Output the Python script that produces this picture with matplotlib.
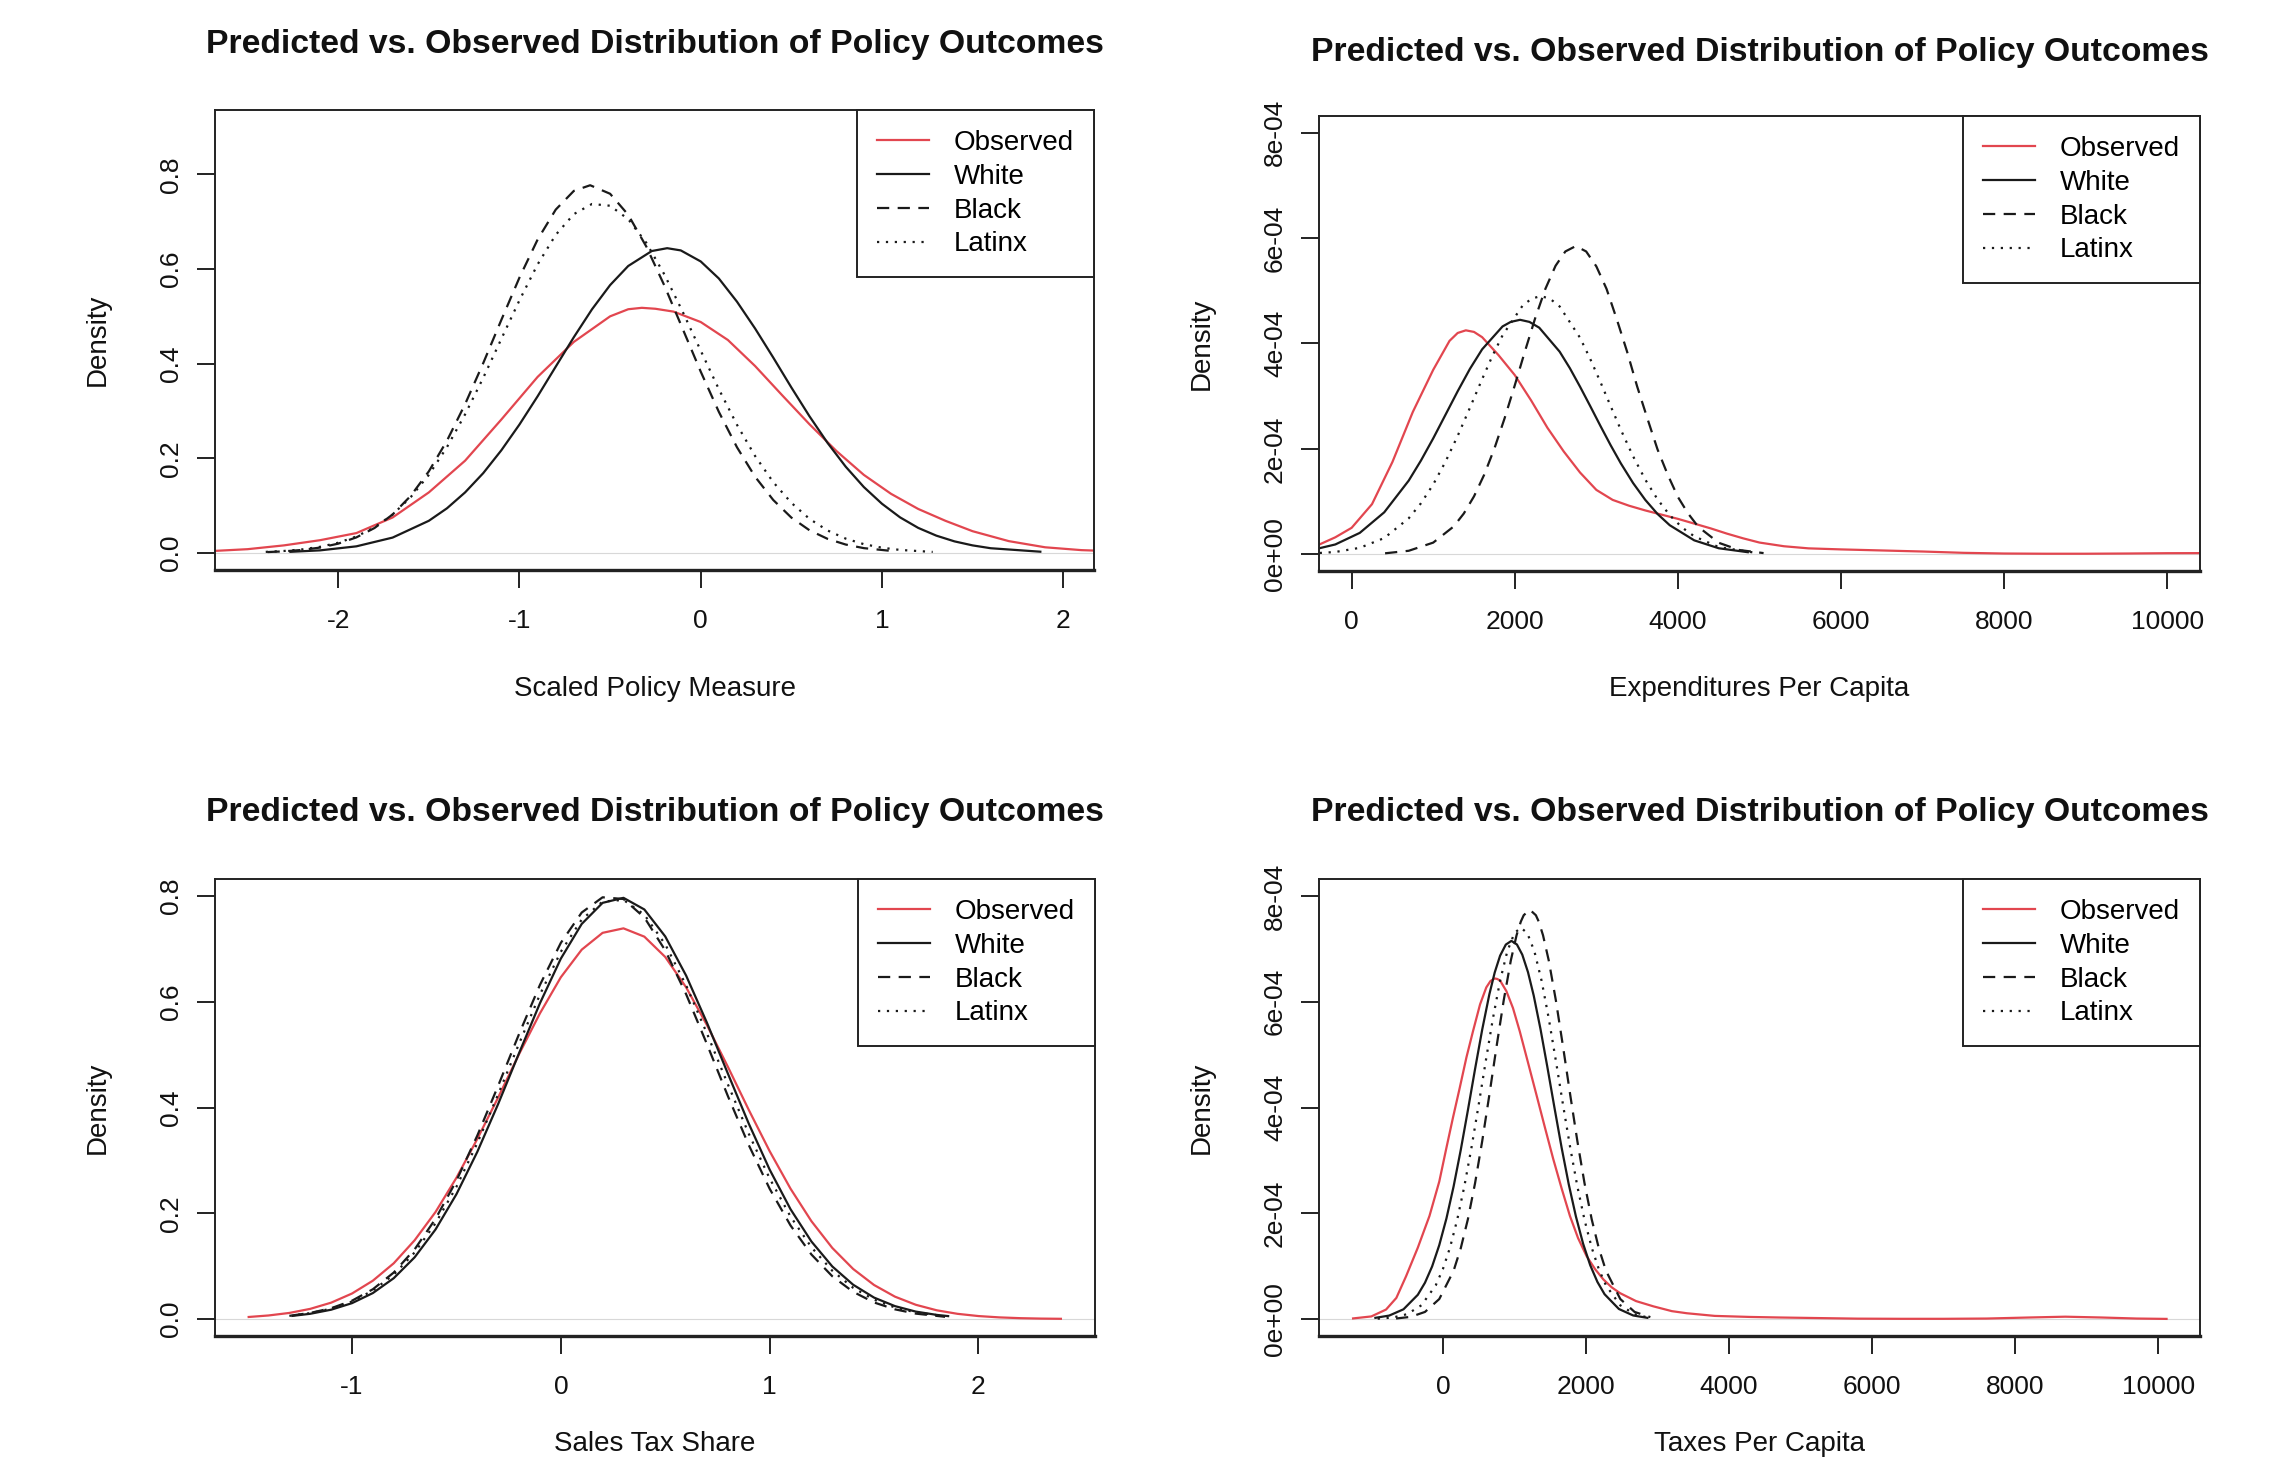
import matplotlib
matplotlib.use("Agg")
import matplotlib.pyplot as plt
from matplotlib.lines import Line2D
import numpy as np

plt.rcParams['font.family'] = ['Liberation Sans', 'DejaVu Sans']

# ---------------- data ----------------
title_text = "Predicted vs. Observed Distribution of Policy Outcomes"
series_names = ["Observed", "White", "Black", "Latinx"]
x_labels = ["Scaled Policy Measure", "Expenditures Per Capita", "Sales Tax Share", "Taxes Per Capita"]
y_label = "Density"

# Panel 1: Scaled Policy Measure
p1_obs_x = [-2.70, -2.50, -2.30, -2.10, -1.90, -1.70, -1.50, -1.30, -1.10, -0.90, -0.70, -0.50, -0.40, -0.325,
            -0.25, -0.15, 0.00, 0.15, 0.30, 0.45, 0.60, 0.75, 0.90, 1.05, 1.20, 1.35, 1.50, 1.70, 1.90, 2.10, 2.25]
p1_obs_y = [0.004, 0.008, 0.016, 0.027, 0.042, 0.075, 0.128, 0.195, 0.282, 0.372, 0.446, 0.500, 0.515, 0.518,
            0.516, 0.510, 0.488, 0.450, 0.395, 0.333, 0.272, 0.215, 0.165, 0.125, 0.093, 0.068, 0.046, 0.025,
            0.012, 0.006, 0.004]
p1_wht_x = [-2.27, -2.10, -1.90, -1.70, -1.50, -1.40, -1.30, -1.20, -1.10, -1.00, -0.90, -0.80, -0.70, -0.60,
            -0.50, -0.40, -0.27, -0.185, -0.11, 0.00, 0.10, 0.20, 0.30, 0.40, 0.50, 0.60, 0.70, 0.80, 0.90,
            1.00, 1.10, 1.20, 1.30, 1.40, 1.50, 1.60, 1.88]
p1_wht_y = [0.0023, 0.0055, 0.014, 0.0325, 0.068, 0.0944, 0.128, 0.1687, 0.217, 0.2715, 0.331, 0.3937, 0.456,
            0.5148, 0.566, 0.6064, 0.638, 0.644, 0.6393, 0.616, 0.580, 0.531, 0.4743, 0.413, 0.3498, 0.2889,
            0.2325, 0.1823, 0.1393, 0.104, 0.0752, 0.053, 0.0366, 0.0245, 0.016, 0.010, 0.0025]
p1_blk_x = [-2.39, -2.30, -2.20, -2.10, -2.00, -1.90, -1.80, -1.70, -1.60, -1.50, -1.40, -1.30, -1.20, -1.10,
            -1.00, -0.90, -0.80, -0.70, -0.61, -0.50, -0.40, -0.30, -0.20, -0.10, 0.00, 0.10, 0.20, 0.30,
            0.40, 0.50, 0.60, 0.70, 0.80, 0.90, 1.07]
p1_blk_y = [0.0019, 0.0034, 0.0064, 0.0114, 0.0197, 0.0329, 0.0527, 0.0813, 0.1207, 0.1725, 0.2373, 0.3145,
            0.4011, 0.4925, 0.582, 0.6622, 0.7255, 0.7651, 0.777, 0.759, 0.7145, 0.6473, 0.5646, 0.474,
            0.3832, 0.2982, 0.2234, 0.1611, 0.112, 0.0748, 0.048, 0.0298, 0.0178, 0.0102, 0.0036]
p1_lat_x = [-2.40, -2.30, -2.20, -2.10, -2.00, -1.90, -1.80, -1.70, -1.60, -1.50, -1.40, -1.30, -1.20, -1.10,
            -1.00, -0.90, -0.80, -0.70, -0.60, -0.50, -0.40, -0.30, -0.20, -0.10, 0.00, 0.10, 0.20, 0.30,
            0.40, 0.50, 0.60, 0.70, 0.80, 0.90, 1.00, 1.10, 1.28]
p1_lat_y = [0.0023, 0.0042, 0.0075, 0.013, 0.0216, 0.0348, 0.054, 0.0812, 0.118, 0.1651, 0.2237, 0.293,
            0.3701, 0.4524, 0.534, 0.6097, 0.6722, 0.716, 0.7374, 0.7337, 0.7053, 0.6552, 0.5881, 0.5101,
            0.4275, 0.3462, 0.2709, 0.2049, 0.1497, 0.106, 0.0721, 0.0475, 0.0303, 0.0186, 0.0111, 0.0064,
            0.0022]

# Panel 2: Expenditures Per Capita (density in units of 1e-4)
p2_obs_x = [-500, -400, -200, 0, 250, 500, 750, 1000, 1200, 1300, 1400, 1500, 1600, 1800, 2000, 2200, 2400,
            2600, 2800, 3000, 3200, 3400, 3600, 3800, 4000, 4200, 4400, 4600, 4800, 5000, 5300, 5600, 6000,
            6500, 7000, 7500, 8000, 8500, 9000, 9500, 10000, 10500]
p2_obs_y = [0.13, 0.18, 0.32, 0.50, 0.95, 1.75, 2.70, 3.50, 4.05, 4.20, 4.25, 4.22, 4.12, 3.78, 3.40, 2.92,
            2.40, 1.95, 1.55, 1.22, 1.03, 0.92, 0.83, 0.75, 0.67, 0.58, 0.49, 0.39, 0.30, 0.22, 0.15, 0.11,
            0.09, 0.07, 0.05, 0.025, 0.012, 0.008, 0.008, 0.012, 0.018, 0.02]
p2_wht_x = [-500, -200, 100, 400, 700, 850, 1000, 1150, 1300, 1450, 1600, 1850, 1950, 2065, 2180, 2300, 2550,
            2675, 2800, 2925, 3050, 3175, 3300, 3450, 3600, 3750, 3900, 4200, 4500, 4870]
p2_wht_y = [0.074, 0.184, 0.404, 0.795, 1.397, 1.778, 2.198, 2.645, 3.093, 3.518, 3.89, 4.324, 4.41, 4.45,
            4.41, 4.30, 3.845, 3.532, 3.18, 2.811, 2.435, 2.069, 1.724, 1.351, 1.03, 0.763, 0.549, 0.262,
            0.112, 0.034]
p2_blk_x = [410, 700, 1000, 1250, 1375, 1500, 1625, 1750, 1875, 2000, 2125, 2250, 2375, 2500, 2620, 2748,
            2875, 3000, 3125, 3250, 3375, 3500, 3625, 3750, 3875, 4000, 4125, 4250, 4500, 4750, 5050]
p2_blk_y = [0.016, 0.064, 0.219, 0.524, 0.771, 1.097, 1.508, 2.005, 2.579, 3.206, 3.854, 4.48, 5.037, 5.476,
            5.748, 5.85, 5.748, 5.464, 5.037, 4.462, 3.854, 3.185, 2.579, 1.989, 1.508, 1.085, 0.771, 0.518,
            0.216, 0.079, 0.020]
p2_lat_x = [-500, -200, 100, 400, 700, 850, 1000, 1150, 1300, 1450, 1600, 1725, 1850, 2100, 2210, 2317, 2430,
            2550, 2800, 2925, 3050, 3175, 3300, 3450, 3600, 3750, 3900, 4050, 4200, 4500, 4950]
p2_lat_y = [0.012, 0.041, 0.12, 0.306, 0.681, 0.966, 1.323, 1.753, 2.246, 2.779, 3.324, 3.761, 4.155, 4.729,
            4.853, 4.90, 4.853, 4.703, 4.109, 3.707, 3.268, 2.812, 2.362, 1.86, 1.415, 1.041, 0.739, 0.508,
            0.338, 0.134, 0.026]

# Panel 3: Sales Tax Share
p3_obs_x = [-1.5, -1.4, -1.3, -1.2, -1.1, -1.0, -0.9, -0.8, -0.7, -0.6, -0.5, -0.4, -0.3, -0.2, -0.1, 0.0,
            0.1, 0.2, 0.3, 0.4, 0.5, 0.6, 0.7, 0.8, 0.9, 1.0, 1.1, 1.2, 1.3, 1.4, 1.5, 1.6, 1.7, 1.8, 1.9,
            2.0, 2.1, 2.2, 2.3, 2.4]
p3_obs_y = [0.0038, 0.0068, 0.0116, 0.0193, 0.031, 0.0483, 0.0726, 0.1055, 0.149, 0.2024, 0.267, 0.3405,
            0.419, 0.5009, 0.578, 0.6462, 0.6984, 0.7302, 0.7387, 0.723, 0.6846, 0.6272, 0.5557, 0.4769,
            0.3955, 0.3175, 0.2465, 0.1851, 0.1345, 0.0947, 0.0644, 0.0424, 0.027, 0.0166, 0.0099, 0.0057,
            0.0032, 0.0017, 0.0009, 0.0005]
p3_wht_x = [-1.29, -1.2, -1.1, -1.0, -0.9, -0.8, -0.7, -0.6, -0.5, -0.4, -0.3, -0.2, -0.1, 0.0, 0.1, 0.2,
            0.3, 0.4, 0.5, 0.6, 0.7, 0.8, 0.9, 1.0, 1.1, 1.2, 1.3, 1.4, 1.5, 1.6, 1.7, 1.8, 1.86]
p3_wht_y = [0.0058, 0.0100, 0.0177, 0.0301, 0.0492, 0.0773, 0.1168, 0.1694, 0.236, 0.3161, 0.4067, 0.5027,
            0.5971, 0.6814, 0.747, 0.7869, 0.7964, 0.7744, 0.7234, 0.6494, 0.56, 0.4641, 0.3695, 0.2826,
            0.2077, 0.1467, 0.0995, 0.0649, 0.0406, 0.0245, 0.0141, 0.0079, 0.0054]
p3_blk_x = [-1.29, -1.2, -1.1, -1.0, -0.9, -0.8, -0.7, -0.6, -0.5, -0.4, -0.3, -0.2, -0.1, 0.0, 0.1, 0.2,
            0.3, 0.4, 0.5, 0.6, 0.7, 0.8, 0.9, 1.0, 1.1, 1.2, 1.3, 1.4, 1.5, 1.6, 1.7, 1.84]
p3_blk_y = [0.0067, 0.0116, 0.0205, 0.0347, 0.0564, 0.088, 0.1318, 0.1895, 0.2616, 0.3468, 0.4412, 0.5389,
            0.6318, 0.7112, 0.7686, 0.7974, 0.7942, 0.7593, 0.697, 0.6142, 0.5196, 0.4216, 0.329, 0.2464,
            0.177, 0.1221, 0.0809, 0.0515, 0.0314, 0.0184, 0.0103, 0.0043]
p3_lat_x = [-1.3, -1.2, -1.1, -1.0, -0.9, -0.8, -0.7, -0.6, -0.5, -0.4, -0.3, -0.2, -0.1, 0.0, 0.1, 0.2,
            0.3, 0.4, 0.5, 0.6, 0.7, 0.8, 0.9, 1.0, 1.1, 1.2, 1.3, 1.4, 1.5, 1.6, 1.7, 1.84]
p3_lat_y = [0.0061, 0.0112, 0.0197, 0.0332, 0.054, 0.084, 0.126, 0.1811, 0.250, 0.3327, 0.425, 0.5207,
            0.6135, 0.6944, 0.7553, 0.7893, 0.7925, 0.7645, 0.7085, 0.6309, 0.5398, 0.4437, 0.3504, 0.2659,
            0.1938, 0.1358, 0.0914, 0.0591, 0.0367, 0.0219, 0.0126, 0.0054]

# Panel 4: Taxes Per Capita (density in units of 1e-4)
p4_obs_x = [-1270, -1000, -794, -650, -514, -350, -187, -50, 47, 140, 234, 330, 421, 520, 607, 665, 724, 760,
            800, 888, 980, 1075, 1190, 1308, 1425, 1542, 1660, 1776, 1890, 2009, 2130, 2243, 2360, 2477, 2700,
            2944, 3200, 3411, 3800, 4300, 4700, 5200, 5800, 6400, 7000, 7600, 8200, 8700, 9200, 9700, 10130]
p4_obs_y = [0.01, 0.05, 0.18, 0.40, 0.81, 1.35, 1.95, 2.60, 3.22, 3.80, 4.36, 4.95, 5.44, 5.95, 6.27, 6.39,
            6.44, 6.43, 6.40, 6.20, 5.88, 5.44, 4.85, 4.24, 3.63, 3.03, 2.47, 1.95, 1.53, 1.19, 0.94, 0.75,
            0.60, 0.49, 0.34, 0.24, 0.15, 0.11, 0.06, 0.04, 0.03, 0.02, 0.008, 0.005, 0.005, 0.01, 0.03,
            0.045, 0.03, 0.01, 0.003]
p4_wht_x = [-958, -750, -550, -350, -250, -150, -50, 50, 150, 250, 350, 450, 550, 650, 725, 800, 880, 958,
            1035, 1110, 1190, 1270, 1365, 1460, 1560, 1660, 1760, 1860, 1960, 2060, 2160, 2260, 2460, 2660,
            2874]
p4_wht_y = [0.020, 0.066, 0.185, 0.459, 0.687, 0.995, 1.399, 1.902, 2.506, 3.196, 3.949, 4.726, 5.473, 6.14,
            6.553, 6.87, 7.08, 7.15, 7.082, 6.89, 6.558, 6.115, 5.48, 4.77, 3.995, 3.24, 2.545, 1.938, 1.426,
            1.017, 0.703, 0.47, 0.191, 0.068, 0.020]
p4_blk_x = [-654, -450, -250, -50, 150, 250, 350, 450, 550, 650, 750, 850, 950, 1030, 1090, 1130, 1215, 1300,
            1340, 1400, 1480, 1580, 1680, 1780, 1880, 1980, 2080, 2180, 2280, 2480, 2680, 2900]
p4_blk_y = [0.0107, 0.0416, 0.135, 0.379, 0.913, 1.338, 1.888, 2.568, 3.364, 4.24, 5.148, 6.021, 6.78, 7.256,
            7.515, 7.635, 7.74, 7.635, 7.515, 7.256, 6.78, 6.021, 5.148, 4.24, 3.364, 2.568, 1.888, 1.338,
            0.913, 0.379, 0.135, 0.0367]
p4_lat_x = [-911, -700, -500, -300, -100, 0, 100, 200, 300, 400, 500, 600, 700, 800, 900, 1000, 1090, 1180,
            1280, 1380, 1480, 1580, 1680, 1780, 1880, 1980, 2080, 2180, 2280, 2480, 2680, 2850]
p4_lat_y = [0.0072, 0.0287, 0.0924, 0.26, 0.636, 0.943, 1.352, 1.875, 2.508, 3.241, 4.047, 4.88, 5.685, 6.396,
            6.95, 7.297, 7.40, 7.297, 6.95, 6.396, 5.685, 4.88, 4.047, 3.241, 2.508, 1.875, 1.352, 0.943,
            0.636, 0.26, 0.0924, 0.0344]

# axis ticks / labels
p1_xticks = [-2, -1, 0, 1, 2]
p1_yticks = [0.0, 0.2, 0.4, 0.6, 0.8]
p1_ytick_labels = ["0.0", "0.2", "0.4", "0.6", "0.8"]
p2_xticks = [0, 2000, 4000, 6000, 8000, 10000]
p2_yticks = [0, 2e-4, 4e-4, 6e-4, 8e-4]
p2_ytick_labels = ["0e+00", "2e-04", "4e-04", "6e-04", "8e-04"]
p3_xticks = [-1, 0, 1, 2]
p3_yticks = [0.0, 0.2, 0.4, 0.6, 0.8]
p3_ytick_labels = ["0.0", "0.2", "0.4", "0.6", "0.8"]
p4_xticks = [0, 2000, 4000, 6000, 8000, 10000]
p4_yticks = [0, 2e-4, 4e-4, 6e-4, 8e-4]
p4_ytick_labels = ["0e+00", "2e-04", "4e-04", "6e-04", "8e-04"]

# ---------------- figure ----------------
W, H, DPI = 2282, 1461, 100
fig = plt.figure(figsize=(W / DPI, H / DPI), dpi=DPI)
fig.patch.set_facecolor("white")

RED = "#E2464F"
BLK = "#1a1a1a"
styles = [dict(color=RED, ls="-"),
          dict(color=BLK, ls="-"),
          dict(color=BLK, ls=(0, (5.5, 3.8))),
          dict(color=BLK, ls=(0, (1, 3)))]
LW = 1.6

def rect(l, r, t, b):
    return [l / W, 1 - b / H, (r - l) / W, (b - t) / H]

scale4 = 1e-4
panels = [
    dict(box=(215, 1094, 110, 570), title_y=44, xlab_off=119,
         curves=[(p1_obs_x, p1_obs_y), (p1_wht_x, p1_wht_y), (p1_blk_x, p1_blk_y), (p1_lat_x, p1_lat_y)],
         yscale=1.0, xlim=(-2.68, 2.17), ylim=(-0.036, 0.936),
         xticks=p1_xticks, xticklabels=[str(v) for v in p1_xticks],
         yticks=p1_yticks, yticklabels=p1_ytick_labels, xlabel=x_labels[0]),
    dict(box=(1319, 2200, 116, 571), title_y=52, xlab_off=118,
         curves=[(p2_obs_x, p2_obs_y), (p2_wht_x, p2_wht_y), (p2_blk_x, p2_blk_y), (p2_lat_x, p2_lat_y)],
         yscale=scale4, xlim=(-400, 10400), ylim=(-3.2e-5, 8.32e-4),
         xticks=p2_xticks, xticklabels=[str(v) for v in p2_xticks],
         yticks=p2_yticks, yticklabels=p2_ytick_labels, xlabel=x_labels[1]),
    dict(box=(215, 1095, 879, 1336), title_y=813, xlab_off=108,
         curves=[(p3_obs_x, p3_obs_y), (p3_wht_x, p3_wht_y), (p3_blk_x, p3_blk_y), (p3_lat_x, p3_lat_y)],
         yscale=1.0, xlim=(-1.656, 2.558), ylim=(-0.032, 0.832),
         xticks=p3_xticks, xticklabels=[str(v) for v in p3_xticks],
         yticks=p3_yticks, yticklabels=p3_ytick_labels, xlabel=x_labels[2]),
    dict(box=(1319, 2200, 879, 1336), title_y=813, xlab_off=108,
         curves=[(p4_obs_x, p4_obs_y), (p4_wht_x, p4_wht_y), (p4_blk_x, p4_blk_y), (p4_lat_x, p4_lat_y)],
         yscale=scale4, xlim=(-1731, 10582), ylim=(-3.2e-5, 8.32e-4),
         xticks=p4_xticks, xticklabels=[str(v) for v in p4_xticks],
         yticks=p4_yticks, yticklabels=p4_ytick_labels, xlabel=x_labels[3]),
]

for p in panels:
    l, r, t, b = p["box"]
    ax = fig.add_axes(rect(l, r, t, b))
    ax.axhline(0, color="#d8d8d8", lw=0.8, zorder=0)
    for (xs, ys), st in zip(p["curves"], styles):
        ax.plot(np.asarray(xs), np.asarray(ys) * p["yscale"], color=st["color"],
                linestyle=st["ls"], lw=LW, solid_capstyle="butt", dash_capstyle="butt",
                solid_joinstyle="round")
    ax.set_xlim(*p["xlim"])
    ax.set_ylim(*p["ylim"])
    ax.set_xticks(p["xticks"])
    ax.set_xticklabels(p["xticklabels"])
    ax.set_yticks(p["yticks"])
    ax.set_yticklabels(p["yticklabels"], rotation=90, va="center")
    ax.tick_params(axis="both", direction="out", length=13, width=1.4, labelsize=19,
                   color="#222222", labelcolor="#111111")
    ax.tick_params(axis="x", pad=15)
    ax.tick_params(axis="y", pad=10)
    for s in ax.spines.values():
        s.set_linewidth(1.4)
        s.set_color("#222222")
    ax.spines["bottom"].set_linewidth(2.4)

    handles = [Line2D([], [], color=st["color"], linestyle=st["ls"], lw=LW) for st in styles]
    leg = ax.legend(handles, series_names, loc="upper right", bbox_to_anchor=(1, 1),
                    borderaxespad=0, fancybox=False, framealpha=1, edgecolor="#222222",
                    fontsize=20, handlelength=1.85, handletextpad=0.9, labelspacing=0.28,
                    borderpad=0.72)
    leg.get_frame().set_linewidth(1.4)

    cx = (l + r) / 2
    fig.text(cx / W, 1 - p["title_y"] / H, title_text, ha="center", va="center",
             fontsize=24.3, fontweight="bold", color="#111111")
    fig.text(cx / W, 1 - (b + p["xlab_off"]) / H, p["xlabel"], ha="center", va="center",
             fontsize=20, color="#111111")
    fig.text((l - 117) / W, 1 - ((t + b) / 2) / H, y_label, ha="center", va="center",
             rotation=90, fontsize=20, color="#111111")

fig.savefig("out.png", dpi=DPI)
